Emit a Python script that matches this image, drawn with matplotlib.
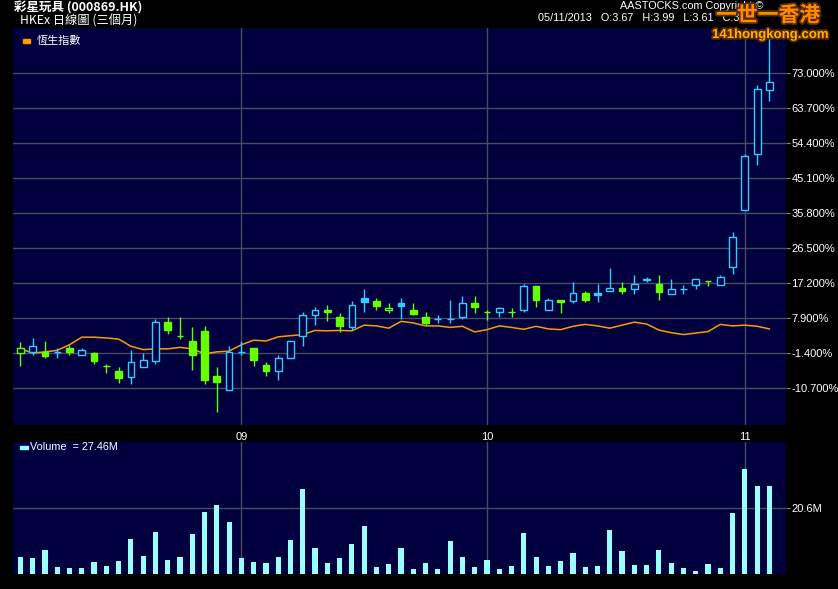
# Daily candlestick chart (3 months) with HSI overlay and volume panel
import matplotlib
matplotlib.use("Agg")
import matplotlib.pyplot as plt
import matplotlib.patheffects as pe
from matplotlib.patches import Rectangle

plt.rcParams['font.family'] = ['Liberation Sans', 'Noto Sans CJK TC', 'DejaVu Sans']

########################################################################
# Data (percent change vs. first close, volume in millions)

opens = [-1.4, -1.2, -1.1, -1.1, 0.0, -2.0, -1.4, -4.8, -6.1, -7.8,
         -5.1, -3.4, 6.9, 3.2, 1.8, 4.5, -7.4, -11.2, -1.0, 0.0,
         -4.5, -6.3, -2.8, 3.0, 8.7, 10.1, 8.3, 5.4, 13.2, 12.4,
         10.0, 11.9, 10.0, 8.2, 7.6, 7.6, 8.2, 11.9, 9.4, 9.4,
         9.4, 9.9, 16.5, 9.9, 12.6, 12.3, 14.5, 14.6, 15.1, 15.9,
         15.5, 18.3, 17.0, 14.2, 15.6, 16.8, 17.7, 16.8, 21.5, 36.5,
         51.5, 68.4]
highs = [1.4, 2.7, 1.9, -0.1, 0.6, 0.0, -1.1, -4.3, -5.0, -0.5,
         -1.3, 7.7, 8.3, 8.3, 5.6, 5.9, -5.0, 0.5, 1.9, 0.0,
         -3.7, -1.9, 1.8, 9.6, 10.8, 11.4, 9.3, 12.4, 15.7, 13.2,
         11.9, 13.2, 11.9, 9.5, 8.8, 12.8, 13.8, 13.8, 10.0, 10.8,
         10.6, 17.0, 16.5, 13.2, 12.8, 17.6, 15.2, 17.0, 21.3, 17.6,
         19.4, 18.9, 19.4, 18.3, 16.6, 18.3, 17.7, 19.3, 30.8, 51.6,
         69.9, 83.1]
lows = [-4.8, -2.0, -2.8, -2.8, -2.0, -2.0, -4.4, -6.6, -9.5, -9.7,
        -5.1, -4.4, 3.6, 2.2, -5.8, -9.7, -17.2, -11.2, -2.0, -4.8,
        -7.6, -8.5, -2.8, 0.5, 6.1, 7.2, 4.3, 4.8, 9.4, 9.9,
        9.1, 7.6, 8.6, 6.1, 6.7, 6.7, 7.6, 9.1, 7.3, 8.2,
        8.1, 9.4, 10.7, 9.9, 9.2, 11.8, 12.2, 12.2, 15.1, 14.2,
        14.4, 17.4, 12.6, 14.2, 14.4, 15.5, 16.3, 16.8, 19.5, 36.5,
        48.5, 65.6]
closes = [0.0, 0.5, -2.3, -1.1, -1.2, -0.6, -3.6, -4.8, -8.1, -3.7,
          -3.3, 6.9, 4.6, 3.2, -1.8, -8.7, -9.2, -1.0, -1.0, -3.3,
          -6.3, -2.7, 1.8, 8.7, 10.0, 9.4, 5.9, 11.4, 12.1, 11.0,
          10.6, 11.1, 8.9, 6.6, 7.6, 7.6, 11.9, 10.7, 9.4, 10.6,
          9.4, 16.5, 12.6, 12.7, 12.1, 14.5, 12.8, 13.9, 15.9, 15.2,
          16.9, 17.9, 14.7, 15.6, 15.6, 18.3, 17.7, 18.8, 29.4, 51.0,
          68.8, 70.7]
prev_close_first = 0.3

hsi = [-0.3, -1.4, -1.1, -0.7, 0.8, 2.8, 2.8, 2.6, 2.3, 0.4,
       -0.5, -0.3, -0.3, 0.1, -0.3, -1.6, -1.1, -0.9, 0.8, 2.0,
       1.8, 2.9, 3.2, 3.5, 4.6, 4.5, 4.6, 4.5, 6.0, 5.8,
       5.2, 7.0, 6.6, 5.8, 5.8, 5.4, 5.7, 4.2, 4.8, 5.8,
       5.4, 4.9, 5.7, 5.0, 4.8, 5.7, 6.2, 5.8, 5.2, 6.0,
       6.8, 6.3, 4.7, 4.0, 3.5, 3.9, 4.3, 6.2, 5.8, 6.0,
       5.7, 5.0]

volume = [5.33, 5.02, 7.52, 2.19, 1.88, 1.88, 3.76, 2.51, 4.08, 10.97,
          5.64, 13.17, 4.39, 5.33, 12.54, 19.44, 21.63, 16.30, 5.02, 3.76,
          3.45, 5.33, 10.66, 26.65, 8.15, 3.45, 5.02, 9.41, 15.05, 2.19,
          3.14, 8.15, 1.57, 3.45, 1.57, 10.35, 5.33, 2.19, 4.39, 1.57,
          2.51, 12.85, 5.33, 2.51, 4.08, 6.58, 2.19, 2.51, 13.79, 7.21,
          2.82, 2.82, 7.52, 3.45, 1.88, 0.94, 3.14, 1.88, 19.12, 32.92,
          27.50, 27.46]

month_pos = [18, 38, 59]
month_labels = ["09", "10", "11"]
pct_ticks = [-10.7, -1.4, 7.9, 17.2, 26.5, 35.8, 45.1, 54.4, 63.7, 73.0]
vol_ticks = [20.6]

########################################################################

W, H = 838, 589
BG = "black"
PANEL = "#00003f"
GRID = "#4b4b60"
UP = "#33ccff"
DOWN = "#66ff00"
VOLC = "#99ffff"
HSI_C = "#ff9900"


def px(x, y):
	# pixel position -> figure fraction
	return x / W, 1 - y / H


def drawCandles(ax, opens, highs, lows, closes, prev0, width=0.55):
	prev = prev0
	for i in range(len(opens)):
		o, h, l, c = opens[i], highs[i], lows[i], closes[i]
		color = UP if c >= prev else DOWN
		ax.vlines(i, l, h, color=color, lw=1, zorder=3)
		face = PANEL if c > o else color  # hollow when close > open
		ax.add_patch(Rectangle((i - width / 2, min(o, c)), width, abs(c - o),
							   facecolor=face, edgecolor=color, lw=1, zorder=4))
		prev = c


def stylePanel(ax):
	ax.set_facecolor(PANEL)
	for s in ax.spines.values():
		s.set_visible(False)
	ax.yaxis.tick_right()
	ax.grid(True, color=GRID, lw=1, zorder=0)
	ax.set_axisbelow(True)
	ax.tick_params(axis="y", colors="#888888", labelcolor="white", length=3, labelsize=8, pad=1)
	ax.tick_params(axis="x", length=0, labelcolor="white", labelsize=8)
	ax.set_xlim(-0.6, 62.35)


fig = plt.figure(figsize=(W / 100, H / 100), dpi=100, facecolor=BG)
ax = fig.add_axes([13 / W, 1 - 425 / H, 773 / W, 397 / H])
vax = fig.add_axes([13 / W, 1 - 574 / H, 773 / W, 132 / H])

# price panel
stylePanel(ax)
x = list(range(len(closes)))
ax.plot(x, hsi, color=HSI_C, lw=1.1, zorder=2)
drawCandles(ax, opens, highs, lows, closes, prev_close_first)
ax.set_ylim(-20.53, 84.96)
ax.set_yticks(pct_ticks)
ax.set_yticklabels(["{0:.3f}%".format(v) for v in pct_ticks])
ax.set_xticks(month_pos)
ax.set_xticklabels(month_labels)
ax.tick_params(axis="x", pad=5)

# volume panel
stylePanel(vax)
vax.bar(x, volume, width=0.42, color=VOLC, zorder=3)
vax.set_ylim(0, 41.4)
vax.set_yticks(vol_ticks)
vax.set_yticklabels(["{0}M".format(v) for v in vol_ticks])
vax.set_xticks(month_pos)
vax.set_xticklabels([])

# legends
fig.add_artist(Rectangle(px(23, 42.5), 7 / W, 3 / H, color=HSI_C, transform=fig.transFigure))
fig.text(*px(37, 41), "恆生指數", color="white", fontsize=8, va="center",
		 family=["Noto Sans CJK TC", "DejaVu Sans"])
fig.add_artist(Rectangle(px(20, 449), 8 / W, 3 / H, color=VOLC, transform=fig.transFigure))
fig.text(*px(30, 447.5), "Volume  = {0}M".format(volume[-1]), color="white", fontsize=7.8, va="center")

# header
fig.text(*px(14, 8), "彩星玩具 (000869.HK)", color="white", fontsize=9, fontweight="bold",
		 va="center", family=["Noto Sans CJK TC", "DejaVu Sans"])
fig.text(*px(20, 21), "HKEx 日線圖 (三個月)", color="white", fontsize=8.8, va="center",
		 family=["Noto Sans CJK TC", "DejaVu Sans"])
fig.text(*px(620, 6), "AASTOCKS.com Copyright ©", color="white", fontsize=7.8, va="center")
fig.text(*px(538, 18), "05/11/2013   O:3.67   H:3.99   L:3.61   C:3.72", color="white",
		 fontsize=7.8, va="center")

# watermark logo
glow = [pe.withStroke(linewidth=2.5, foreground="#5a2a00")]
fig.text(*px(716, 15), "一世一香港", color="#ff8a00", fontsize=15, fontweight="bold", va="center",
		 family=["Noto Sans CJK TC", "DejaVu Sans"], path_effects=glow, zorder=10)
fig.text(*px(712, 35), "141hongkong.com", color="#ffb000", fontsize=9.5, fontweight="bold",
		 va="center", path_effects=glow, zorder=10)

fig.savefig("out.png", dpi=100, facecolor=BG)
